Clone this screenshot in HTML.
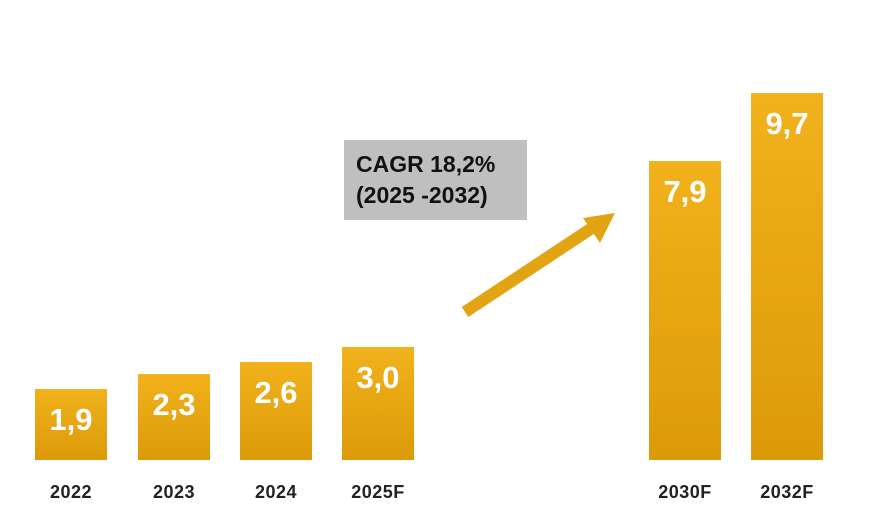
<!DOCTYPE html>
<html><head><style>
body{margin:0;width:872px;height:510px;background:#fff;position:relative;overflow:hidden;font-family:"Liberation Sans",sans-serif}
.b{position:absolute;width:72px;bottom:50px;background:linear-gradient(#f1b21c,#dc9a08);color:#fff;font-weight:bold;font-size:31px;text-align:center;line-height:31px;padding-top:15px;box-sizing:border-box}
.l{position:absolute;top:482px;width:100px;text-align:center;font-size:18px;font-weight:bold;color:#222;letter-spacing:0.5px}
.box{position:absolute;left:344px;top:140px;width:183px;height:80px;background:#bfbfbf;font-weight:bold;font-size:23px;color:#111;padding:9px 0 0 12px;box-sizing:border-box;line-height:31px}
</style></head><body>
<div class="b" style="left:35px;top:389px">1,9</div>
<div class="b" style="left:138px;top:374px">2,3</div>
<div class="b" style="left:240px;top:362px">2,6</div>
<div class="b" style="left:342px;top:347px">3,0</div>
<div class="b" style="left:649px;top:161px">7,9</div>
<div class="b" style="left:751px;top:93px">9,7</div>
<div class="l" style="left:21px">2022</div>
<div class="l" style="left:124px">2023</div>
<div class="l" style="left:226px">2024</div>
<div class="l" style="left:328px">2025F</div>
<div class="l" style="left:635px">2030F</div>
<div class="l" style="left:737px">2032F</div>
<div class="box">CAGR 18,2%<br>(2025 -2032)</div>
<svg style="position:absolute;left:0;top:0" width="872" height="510">
<line x1="465" y1="312" x2="595" y2="226" stroke="#e3a414" stroke-width="12"/>
<polygon points="615,213 583,218 600,243" fill="#e3a414"/>
</svg>
</body></html>
